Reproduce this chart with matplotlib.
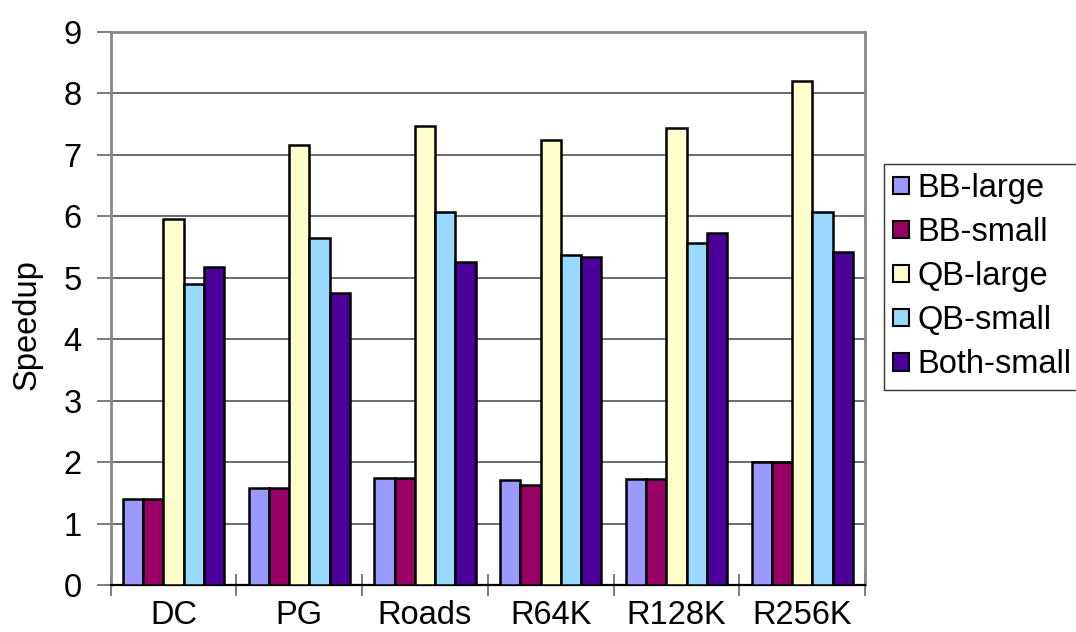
import matplotlib
matplotlib.use("Agg")
import matplotlib.pyplot as plt
import numpy as np

categories = ["DC", "PG", "Roads", "R64K", "R128K", "R256K"]
series_names = ["BB-large", "BB-small", "QB-large", "QB-small", "Both-small"]
bb_large = [1.40, 1.58, 1.74, 1.70, 1.73, 2.00]
bb_small = [1.40, 1.58, 1.74, 1.63, 1.73, 2.00]
qb_large = [5.95, 7.16, 7.47, 7.24, 7.43, 8.20]
qb_small = [4.90, 5.64, 6.07, 5.37, 5.56, 6.07]
both_small = [5.18, 4.75, 5.25, 5.34, 5.72, 5.41]
series_values = [bb_large, bb_small, qb_large, qb_small, both_small]
colors = ["#9999FF", "#990066", "#FFFFCC", "#99D9FF", "#4C0099"]
yticks = [0, 1, 2, 3, 4, 5, 6, 7, 8, 9]

plt.rcParams['font.family'] = ['Liberation Sans', 'DejaVu Sans']
FS = 23.5

fig = plt.figure(figsize=(10.76, 6.32), dpi=100)
ax = fig.add_axes([110.7/1076, 1-585/632, (865-110.7)/1076, (585-31.7)/632])

n = len(series_names)
bw = 0.161
centers = np.arange(len(categories)) + 0.5
for i, (name, vals, c) in enumerate(zip(series_names, series_values, colors)):
    offs = (i - (n-1)/2) * bw
    ax.bar(centers + offs, vals, width=bw, color=c, edgecolor="black",
           linewidth=1.8, label=name, zorder=3)

ax.set_xlim(0, len(categories))
ax.set_ylim(0, 9)
ax.set_yticks(yticks)
ax.set_yticklabels([str(v) for v in yticks], fontsize=FS)
ax.yaxis.grid(True, color="#444444", linewidth=1.1, zorder=0)
ax.set_axisbelow(True)

ax.set_xticks(np.arange(len(categories)+1))
ax.set_xticklabels([])
ax.set_xticks(centers, minor=True)
ax.set_xticklabels(categories, minor=True, fontsize=FS)
ax.tick_params(axis='x', which='major', direction='inout', length=16, width=1.2, color="#666666")
ax.tick_params(axis='x', which='minor', length=0, pad=11)
ax.tick_params(axis='y', which='major', direction='out', length=10, width=1.2, color="#666666", pad=11)

for s in ['left', 'right', 'top']:
    ax.spines[s].set_color("#888888")
    ax.spines[s].set_linewidth(2.0)
ax.spines['bottom'].set_color("black")
ax.spines['bottom'].set_linewidth(1.6)

fig.text(27/1076, 1-325/632, "Speedup", rotation=90, fontsize=FS, ha='center', va='center')

leg = ax.legend(loc='upper left', bbox_to_anchor=(884/1076, 1-164/632),
                bbox_transform=fig.transFigure, fontsize=FS, frameon=True,
                fancybox=False, edgecolor="black", handlelength=0.5, handleheight=0.45,
                handletextpad=0.25, labelspacing=0.4, borderpad=0.28, borderaxespad=0)
leg.get_frame().set_linewidth(1.0)
for p in leg.get_patches():
    p.set_linewidth(1.5)

fig.savefig("out.png", dpi=100)
